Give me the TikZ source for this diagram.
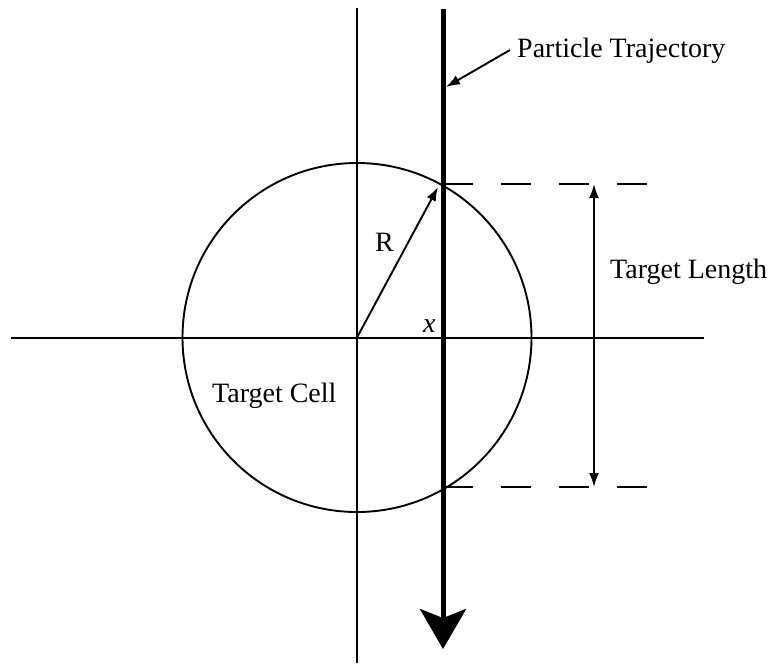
\documentclass[tikz,border=0pt]{standalone}
\usepackage{fontspec}
\setmainfont{Liberation Serif}
\usetikzlibrary{arrows.meta}
\begin{document}
\begin{tikzpicture}[x=1pt,y=-1pt,
  axisline/.style={line width=1.9pt},
  trajline/.style={line width=5pt},
  dashline/.style={line width=1.9pt, dash pattern=on 30pt off 28pt},
  smallarrow/.style={line width=1.9pt, -{Latex[length=14pt,width=10pt]}},
  dimarrow/.style={line width=1.9pt, {Latex[length=14pt,width=10pt]}-{Latex[length=14pt,width=10pt]}},
  lbl/.style={inner sep=0pt, anchor=base west, font=\fontsize{28}{33}\selectfont}
]
\useasboundingbox (0,0) rectangle (773,667);
% coordinates
\coordinate (O) at (357,337.5);
\coordinate (vtop) at (357,8);
\coordinate (vbot) at (357,663);
\coordinate (hleft) at (11,338);
\coordinate (hright) at (704,338);
\coordinate (ttop) at (443,9);
\coordinate (tbot) at (443,649);
\coordinate (P1) at (443,184);
\coordinate (P2) at (443,487);
\coordinate (D1) at (648,184);
\coordinate (D2) at (648,487);
\coordinate (A1) at (594,184);
\coordinate (A2) at (594,487);
\coordinate (Rtip) at (438,187);
\coordinate (pstart) at (510,50);
\coordinate (ptip) at (446,87);
% axes and circle
\draw[axisline] (vtop) -- (vbot);
\draw[axisline] (hleft) -- (hright);
\draw[axisline] (O) circle[radius=174.5pt];
% dashed lines
\draw[dashline] (P1) -- (D1);
\draw[dashline] (P2) -- (D2);
% dimension arrow
\draw[dimarrow] (A1) -- (A2);
% radius
\draw[smallarrow] (O) -- (Rtip);
% trajectory
\draw[trajline, -{Stealth[length=40pt,width=46pt,inset=9pt]}] (ttop) -- (tbot);
% labels
\node[lbl] (pt) at (517,57) {Particle Trajectory};
\draw[smallarrow] (pstart) -- (ptip);
\node[lbl] (tl) at (610,278) {Target Length};
\node[lbl] (tc) at (212,402) {Target Cell};
\node[lbl] (R) at (375,251) {R};
\node[lbl] (xl) at (423,332) {\textit{x}};
\end{tikzpicture}
\end{document}
